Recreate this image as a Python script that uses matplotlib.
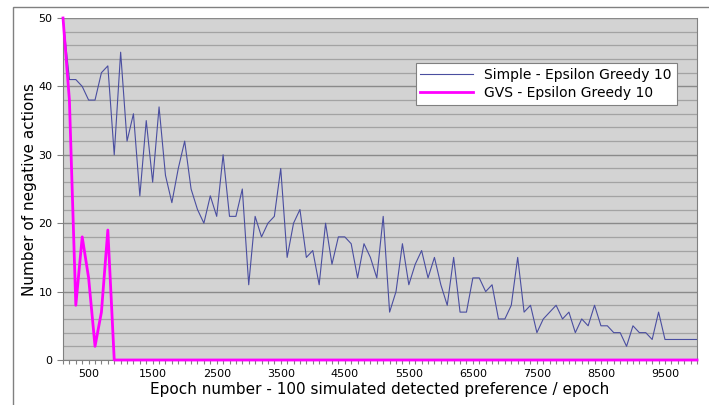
import numpy as np
import matplotlib
matplotlib.use("Agg")
import matplotlib.pyplot as plt
from matplotlib.patches import Rectangle

# epochs 100 .. 10000, one point every 100
epochs = list(range(100, 10001, 100))

simple = [50, 41, 41, 40, 38, 38, 42, 43, 30, 45,
          32, 36, 24, 35, 26, 37, 27, 23, 28, 32,
          25, 22, 20, 24, 21, 30, 21, 21, 25, 11,
          21, 18, 20, 21, 28, 15, 20, 22, 15, 16,
          11, 20, 14, 18, 18, 17, 12, 17, 15, 12,
          21, 7, 10, 17, 11, 14, 16, 12, 15, 11,
          8, 15, 7, 7, 12, 12, 10, 11, 6, 6,
          8, 15, 7, 8, 4, 6, 7, 8, 6, 7,
          4, 6, 5, 8, 5, 5, 4, 4, 2, 5,
          4, 4, 3, 7, 3, 3, 3, 3, 3, 3]

gvs = [50, 38, 8, 18, 12, 2, 7, 19] + [0] * 92

xticks = list(range(500, 10000, 1000))
yticks = [0, 10, 20, 30, 40, 50]

fig = plt.figure(figsize=(7.09, 4.05), dpi=100)
ax = fig.add_axes([63 / 709, 45 / 405, 634 / 709, 342 / 405])
ax.set_facecolor("#d3d3d3")

# outer frame of the chart
fig.patches.append(Rectangle((13 / 709, -0.1), 1.2, 0.1 + 398 / 405,
                             transform=fig.transFigure, fill=False,
                             edgecolor="#808080", lw=1.0))

ax.set_yticks(np.arange(0, 51, 2), minor=True)
ax.grid(True, axis="y", which="minor", color="#a3a3a3", lw=0.9)
ax.grid(True, axis="y", which="major", color="#8a8a8a", lw=1.0)
ax.set_axisbelow(True)

ax.plot(epochs, simple, color="#4a4ea0", lw=0.8, label="Simple - Epsilon Greedy 10")
ax.plot(epochs, gvs, color="#ff00ff", lw=2.0, label="GVS - Epsilon Greedy 10",
        clip_on=False, zorder=3)

ax.set_xlim(100, 10000)
ax.set_ylim(0, 50)
ax.set_xticks(xticks)
ax.set_xticks(epochs, minor=True)
ax.set_yticks(yticks)
ax.tick_params(axis="x", which="minor", length=3, color="#808080", width=0.8)
ax.tick_params(axis="x", which="major", length=3, color="#808080", labelsize=8)
ax.tick_params(axis="y", which="major", length=4, color="#808080", labelsize=8)
ax.tick_params(axis="y", which="minor", length=0)

ax.spines["top"].set_visible(False)
for s in ["left", "bottom", "right"]:
    ax.spines[s].set_color("#808080")

ax.set_xlabel("Epoch number - 100 simulated detected preference / epoch",
              fontsize=11, labelpad=2)
ax.set_ylabel("Number of negative actions", fontsize=11, labelpad=1)

leg = ax.legend(loc="upper right", bbox_to_anchor=(0.979, 0.889),
                fontsize=10, fancybox=False, framealpha=1, edgecolor="#808080",
                handlelength=3.8, borderpad=0.35, labelspacing=0.3)
leg.get_frame().set_linewidth(0.8)

fig.savefig("out.png", dpi=100)
